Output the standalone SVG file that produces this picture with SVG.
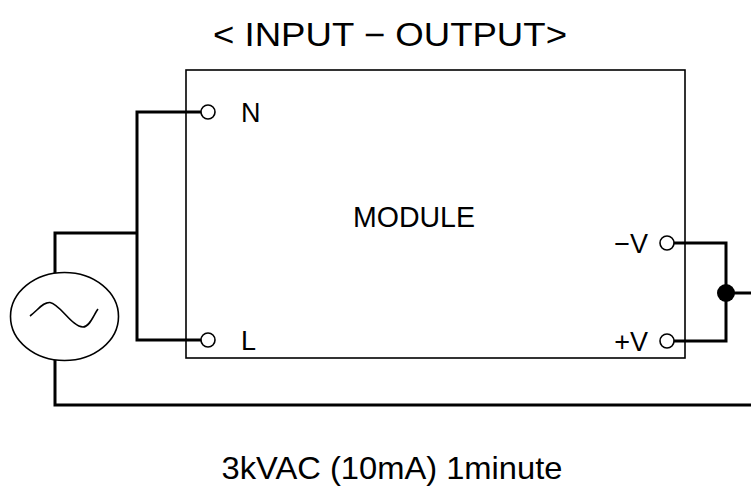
<svg xmlns="http://www.w3.org/2000/svg" width="751" height="488" viewBox="0 0 751 488">
<style>
text{font-family:"Liberation Sans",Arial,sans-serif;fill:#000}
.wire{fill:none;stroke:#000;stroke-width:3}
.thin{fill:none;stroke:#000;stroke-width:1.6}
.term{fill:#fff;stroke:#000;stroke-width:1.6}
</style>
<rect width="751" height="488" fill="#fff"/>
<text x="390" y="46" font-size="33" text-anchor="middle" textLength="354" lengthAdjust="spacingAndGlyphs">&lt; INPUT − OUTPUT&gt;</text>
<g id="connectors">
<polyline class="wire" points="201,112 137,112 137,340 201,340"/>
<polyline class="wire" points="137,233 55,233 55,273"/>
<polyline class="wire" points="55,360 55,405 751,405"/>
<polyline class="wire" points="674,243 726,243 726,341 674,341"/>
<line class="wire" x1="726" y1="293" x2="751" y2="293"/>
<circle cx="726" cy="293" r="9" fill="#000"/>
</g>
<g id="module">
<rect class="thin" x="186" y="70" width="499" height="288"/>
<text x="414" y="227" font-size="29" text-anchor="middle" textLength="122" lengthAdjust="spacingAndGlyphs">MODULE</text>
</g>
<g id="term-N"><circle class="term" cx="208" cy="112" r="7"/><text x="241" y="122" font-size="27">N</text></g>
<g id="term-L"><circle class="term" cx="208" cy="340" r="7"/><text x="241" y="350" font-size="27">L</text></g>
<g id="term-negV"><circle class="term" cx="667" cy="243" r="7"/><text x="648" y="253" font-size="27" text-anchor="end">−V</text></g>
<g id="term-posV"><circle class="term" cx="667" cy="341" r="7"/><text x="648" y="351" font-size="27" text-anchor="end">+V</text></g>
<g id="ac-source">
<ellipse class="thin" cx="64.5" cy="316.5" rx="54" ry="44"/>
<path class="thin" d="M30,316 C38,310 43,302 50,302.5 C60,304 72,327 83,327 C90,327 94,314 98,309"/>
</g>
<text x="392" y="479" font-size="32" text-anchor="middle" textLength="341" lengthAdjust="spacingAndGlyphs">3kVAC (10mA) 1minute</text>
</svg>
